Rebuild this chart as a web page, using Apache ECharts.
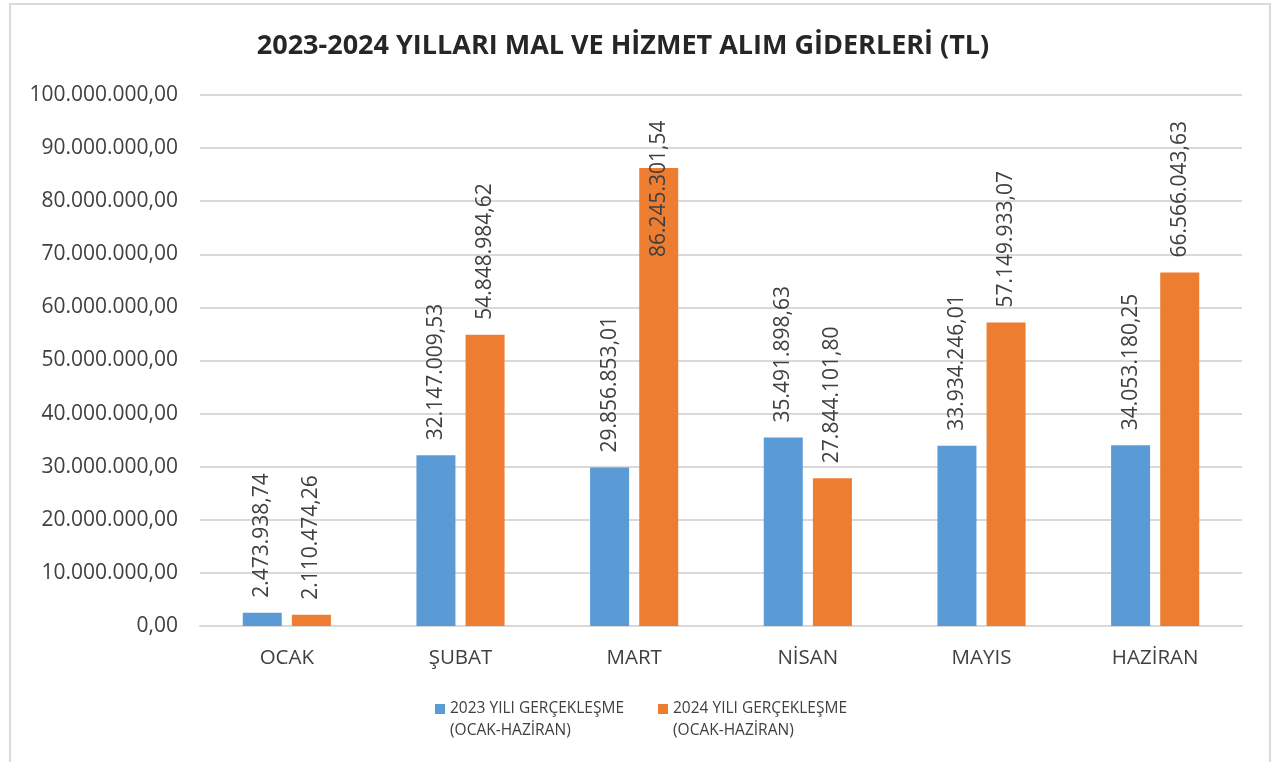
<!DOCTYPE html>
<html>
<head>
<meta charset="utf-8">
<script src="https://cdn.jsdelivr.net/npm/echarts@6/dist/echarts.min.js"></script>
<style>
	html, body { margin: 0; padding: 0; background: #fff; }
	#chart { width: 1282px; height: 762px; }
	.frame { position: absolute; left: 9px; top: 3px; width: 1262px; height: 770px; border: 2px solid #d9d9d9; box-sizing: border-box; pointer-events: none; }
</style>
</head>
<body>
<div id="chart"></div>
<div class="frame"></div>
<script>
	// aylar
	var months = ['OCAK', 'ŞUBAT', 'MART', 'NİSAN', 'MAYIS', 'HAZİRAN'];
	// gerçekleşme değerleri (TL)
	var values2023 = [2473938.74, 32147009.53, 29856853.01, 35491898.63, 33934246.01, 34053180.25];
	var values2024 = [2110474.26, 54848984.62, 86245301.54, 27844101.80, 57149933.07, 66566043.63];
	var seriesNames = ['2023 YILI GERÇEKLEŞME\n(OCAK-HAZİRAN)', '2024 YILI GERÇEKLEŞME\n(OCAK-HAZİRAN)'];

	//türkçe sayı biçimi
	function tr_format(v) {
		var parts = Number(v).toFixed(2).split('.');
		var intPart = parts[0].replace(/\B(?=(\d{3})+(?!\d))/g, '.');
		return intPart + ',' + parts[1];
	}

	var myChart = echarts.init(document.getElementById('chart'));
	var fontName = "'Open Sans', 'Liberation Sans', sans-serif";

	function bar_series(name, data, color) {
		//etiket grafiğe sığmazsa çubuğun içine kaydır (excel gibi)
		var items = data.map(function(v) {
			if(v > 80000000) {
				return { value: v, label: { distance: -89 } };
			}
			return v;
		});
		return {
			name: name,
			type: 'bar',
			data: items,
			barWidth: 39,
			barGap: '26%',
			itemStyle: { color: color },
			label: {
				show: true,
				position: 'top',
				rotate: 90,
				align: 'left',
				verticalAlign: 'middle',
				distance: 15,
				color: '#404040',
				fontSize: 21,
				fontFamily: fontName,
				formatter: function(p) { return tr_format(p.value); }
			}
		};
	}

	var option = {
		backgroundColor: '#fff',
		textStyle: { fontFamily: fontName },
		title: {
			text: '2023-2024 YILLARI MAL VE HİZMET ALIM GİDERLERİ (TL)',
			left: 618,
			top: 28,
			textAlign: 'center',
			textStyle: { fontSize: 27, fontWeight: 'bold', color: '#262626', fontFamily: fontName }
		},
		legend: {
			bottom: 15,
			left: 'center',
			itemWidth: 10,
			itemHeight: 44,
			itemGap: 34,
			// kare işaret ilk satır hizasında
			icon: 'path://M0,0L0,0M0,6L10,6L10,16L0,16ZM0,44L0,44',
			textStyle: { fontSize: 15.5, color: '#404040', lineHeight: 22, fontFamily: fontName },
			data: seriesNames
		},
		grid: {
			left: 200,
			right: 40,
			top: 95,
			bottom: 136,
			containLabel: false
		},
		xAxis: {
			type: 'category',
			data: months,
			axisTick: { show: false },
			axisLine: { lineStyle: { color: '#d9d9d9', width: 2 } },
			axisLabel: { color: '#404040', fontSize: 20.5, margin: 22, fontFamily: fontName }
		},
		yAxis: {
			type: 'value',
			min: 0,
			max: 100000000,
			interval: 10000000,
			axisLine: { show: false },
			axisTick: { show: false },
			splitLine: { lineStyle: { color: '#d9d9d9', width: 2 } },
			axisLabel: {
				color: '#404040',
				fontSize: 21,
				margin: 22,
				fontFamily: fontName,
				formatter: function(v) { return tr_format(v); }
			}
		},
		series: [
			bar_series(seriesNames[0], values2023, '#5b9bd5'),
			bar_series(seriesNames[1], values2024, '#ed7d31')
		]
	};
	myChart.setOption(option);
</script>
</body>
</html>
